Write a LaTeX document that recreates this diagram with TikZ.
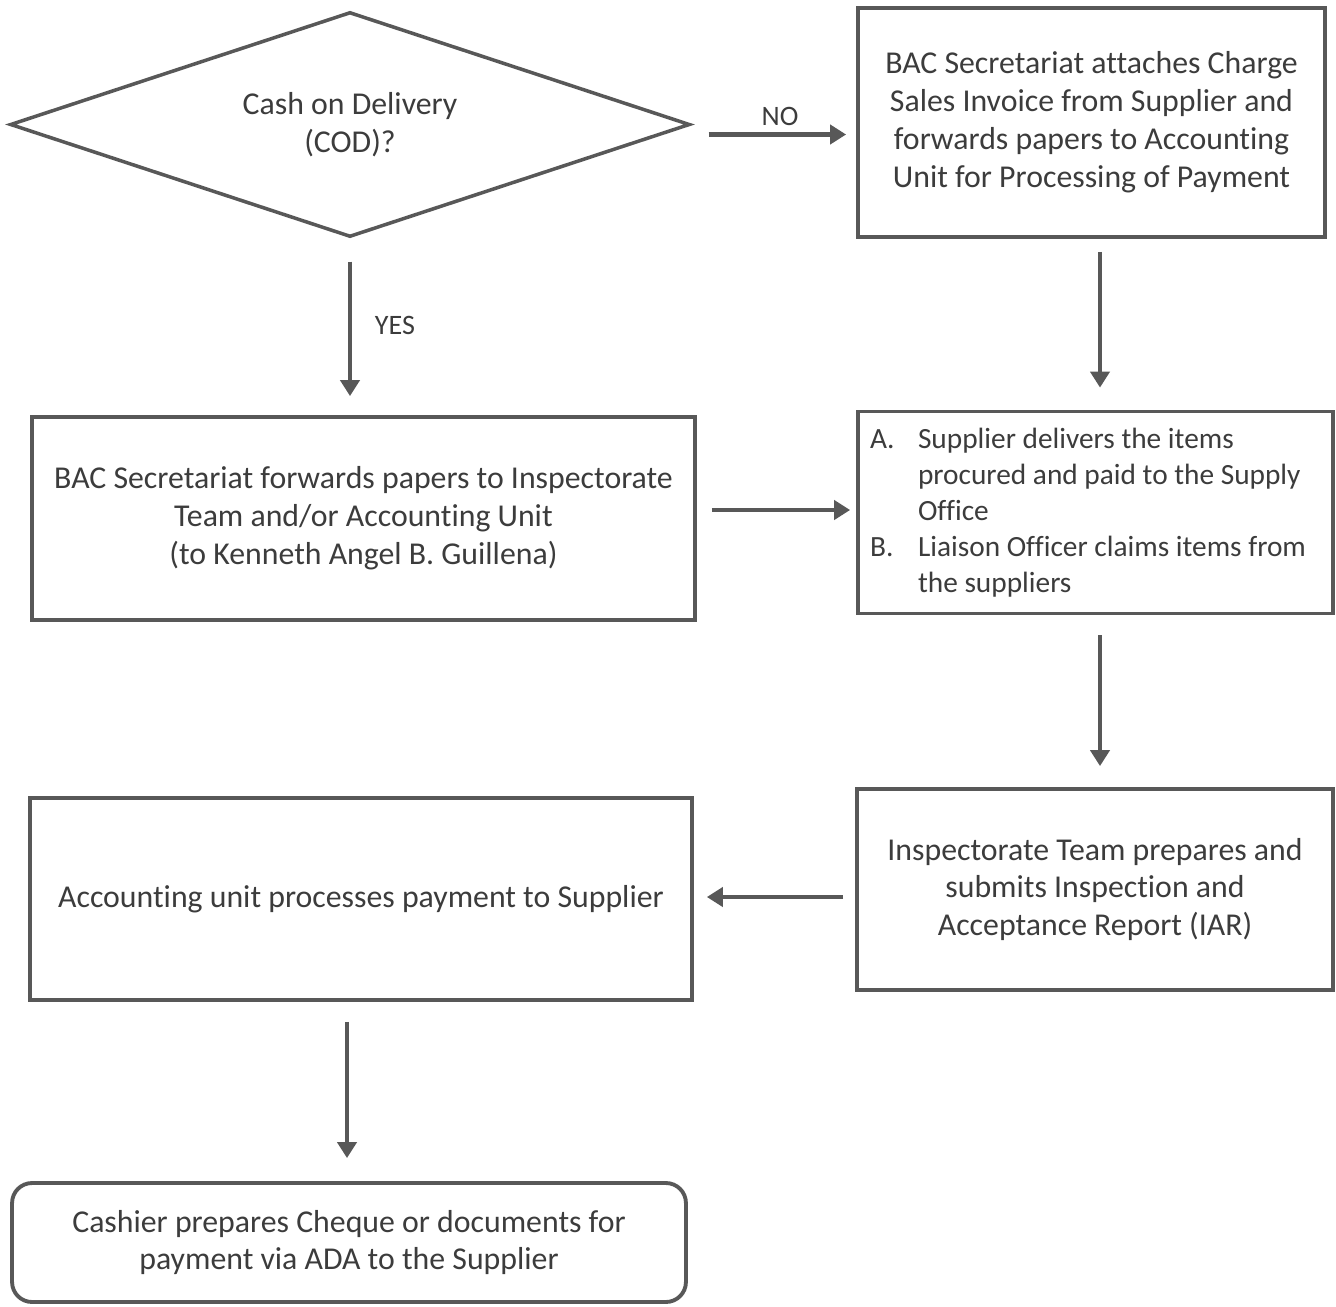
\documentclass[tikz,border=0pt]{standalone}
\usepackage{fontspec}
\setmainfont[Ligatures=NoCommon]{Carlito}
\usetikzlibrary{shapes.geometric,arrows.meta}
\definecolor{ink}{HTML}{3C3C3C}
\definecolor{lin}{HTML}{585858}
\tikzset{
  box/.style={draw=lin,line width=2.2pt,rectangle,inner sep=0pt,align=center,text=ink,font=\fontsize{18.1}{21.6}\selectfont},
  dec/.style={draw=lin,line width=2pt,diamond,inner sep=0pt,align=center,text=ink,font=\fontsize{18.1}{21.6}\selectfont,aspect=3},
  arr/.style={draw=lin,line width=2.6pt,-{Triangle[length=0.32cm,width=0.38cm]}},
  lbl/.style={text=ink,font=\fontsize{16}{19}\selectfont,inner sep=0pt}
}
\newcommand{\itemlbl}[1]{\makebox[0.96cm][l]{#1}}
\begin{document}
\begin{tikzpicture}[x=0.02cm,y=-0.02cm]
\useasboundingbox[fill=white] (0,0) rectangle (1336,1306);
\node[dec,minimum width=13.6cm,minimum height=4.5cm] (dia) at (350,124.5) {Cash on Delivery\\(COD)?};
\node[box,minimum width=9.34cm,minimum height=4.58cm] (b1) at (1091.5,122.5) {BAC Secretariat attaches Charge\\Sales Invoice from Supplier and\\forwards papers to Accounting\\Unit for Processing of Payment};
\node[box,minimum width=13.26cm,minimum height=4.06cm] (b2) at (363.5,518.5) {BAC Secretariat forwards papers to Inspectorate\\Team and/or Accounting Unit\\(to Kenneth Angel B. Guillena)};
\node[box,minimum width=9.5cm,minimum height=4.04cm,align=left,font=\fontsize{16.7}{20.5}\selectfont] (b3) at (1095.5,512.5) {\makebox[9.02cm][l]{\itemlbl{A.}Supplier delivers the items}\\\hspace*{0.96cm}procured and paid to the Supply\\\hspace*{0.96cm}Office\\\itemlbl{B.}Liaison Officer claims items from\\\hspace*{0.96cm}the suppliers};
\node[box,minimum width=9.52cm,minimum height=4.02cm] (b4) at (1095,889.5) {Inspectorate Team prepares and\\submits Inspection and\\Acceptance Report (IAR)};
\node[box,minimum width=13.24cm,minimum height=4.04cm] (b5) at (361,899) {Accounting unit processes payment to Supplier};
\node[box,rounded corners=0.4cm,minimum width=13.48cm,minimum height=2.38cm] (b6) at (349,1242.5) {Cashier prepares Cheque or documents for\\payment via ADA to the Supplier};
% connectors
\coordinate (noS) at ([xshift=0.34cm,yshift=-0.2cm]dia.east);
\draw[arr,shorten >=0.2cm] (noS) -- (noS -| b1.west);
\node[lbl] (nol) at (780,116) {NO};
\draw[arr,shorten <=0.46cm,shorten >=0.38cm] (dia.south) -- (dia.south |- b2.north);
\node[lbl] (yesl) at (395,325) {YES};
\draw[arr,shorten <=0.26cm,shorten >=0.44cm] ([xshift=0.17cm]b1.south) -- ([xshift=0.17cm]b1.south |- b3.north);
\draw[arr,shorten <=0.3cm,shorten >=0.12cm] ([yshift=0.17cm]b2.east) -- ([yshift=0.17cm]b2.east -| b3.west);
\draw[arr,shorten <=0.4cm,shorten >=0.42cm] ([xshift=0.09cm]b3.south) -- ([xshift=0.09cm]b3.south |- b4.north);
\draw[arr,shorten <=0.24cm,shorten >=0.26cm] ([yshift=-0.15cm]b4.west) -- ([yshift=-0.15cm]b4.west -| b5.east);
\draw[arr,shorten <=0.4cm,shorten >=0.46cm] ([xshift=-0.28cm]b5.south) -- ([xshift=-0.28cm]b5.south |- b6.north);
\end{tikzpicture}
\end{document}
